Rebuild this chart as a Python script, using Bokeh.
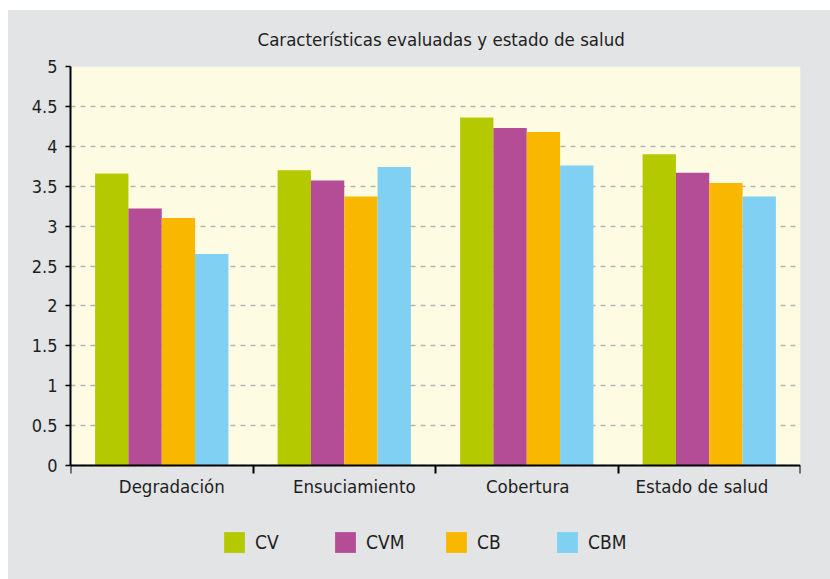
from bokeh.plotting import figure
from bokeh.models import (ColumnDataSource, Legend, LegendItem, FixedTicker,
                          CustomJSTickFormatter, Range1d, Spacer, BoxAnnotation)
from bokeh.transform import dodge
from bokeh.layouts import column, row
from bokeh.embed import file_html
from bokeh.resources import INLINE
import numpy as np

# ---- data ----
categories = ["Degradación", "Ensuciamiento", "Cobertura", "Estado de salud"]
series_names = ["CV", "CVM", "CB", "CBM"]
cv = [3.66, 3.70, 4.36, 3.90]
cvm = [3.22, 3.57, 4.23, 3.67]
cb = [3.10, 3.37, 4.18, 3.54]
cbm = [2.65, 3.74, 3.76, 3.37]
y_ticks = [0, 0.5, 1, 1.5, 2, 2.5, 3, 3.5, 4, 4.5, 5]
colors = ["#b5c900", "#b54c96", "#f9b700", "#80d0f4"]

# ---- style ----
FONT = "'Liberation Sans Narrow', 'DejaVu Sans Condensed', 'Roboto Condensed', sans-serif"
GRAY = "#e3e4e6"
PLOT_BG = "#fefbe3"
TXT = "#1e1e1e"
label_shift = [0.055, 0.055, 0.005, -0.04]   # small horizontal nudges of category labels

Y_MAX = 5
px_per_unit = 399 / Y_MAX
y_bottom = -114 / px_per_unit

src = ColumnDataSource(dict(x=np.arange(len(categories)) + 0.5,
                            CV=cv, CVM=cvm, CB=cb, CBM=cbm))

p = figure(width=822, height=569, output_backend="svg", toolbar_location=None,
           x_range=Range1d(0, len(categories)), y_range=Range1d(y_bottom, Y_MAX),
           title="Características evaluadas y estado de salud",
           min_border_left=62, min_border_right=30, min_border_top=56,
           min_border_bottom=0)
p.border_fill_color = GRAY
p.background_fill_color = None
p.outline_line_color = None
p.styles = {"background-color": GRAY}

p.add_layout(BoxAnnotation(left=0, right=len(categories), bottom=0, top=Y_MAX,
                           fill_color=PLOT_BG, fill_alpha=1, line_color=None,
                           level="image"))

p.title.align = "left"
p.title.offset = 187
p.title.text_font = FONT
p.title.text_font_size = "18.5px"
p.title.text_font_style = "normal"
p.title.text_color = TXT
p.title.standoff = 33

bw = 0.1826
renderers = []
for k, name in enumerate(series_names):
    renderers.append(p.vbar(x=dodge("x", (k - 1.5) * bw, range=p.x_range), top=name,
                            width=bw, source=src, fill_color=colors[k], line_color=None))

# x axis at y = 0
xa = p.xaxis[0]
xa.fixed_location = 0
xa.ticker = FixedTicker(ticks=[i + 0.5 + s for i, s in enumerate(label_shift)],
                        minor_ticks=list(range(len(categories) + 1)))
xa.formatter = CustomJSTickFormatter(args=dict(labels=categories),
                                     code="return labels[Math.floor(tick)]")
xa.major_tick_line_color = None
xa.major_tick_out = 8
xa.major_tick_in = 0
xa.minor_tick_line_color = "black"
xa.minor_tick_line_width = 2
xa.minor_tick_out = 8
xa.minor_tick_in = 0
xa.axis_line_color = "black"
xa.axis_line_width = 2
xa.major_label_text_font = FONT
xa.major_label_text_font_size = "18.5px"
xa.major_label_text_color = TXT
xa.major_label_standoff = 2

# y axis
ya = p.yaxis[0]
ya.bounds = (0, Y_MAX)
ya.ticker = FixedTicker(ticks=y_ticks, minor_ticks=[])
ya.formatter = CustomJSTickFormatter(code="return tick.toString()")
ya.axis_line_color = "black"
ya.axis_line_width = 2
ya.major_tick_line_color = "black"
ya.major_tick_line_width = 1.5
ya.major_tick_out = 5
ya.major_tick_in = 0
ya.minor_tick_line_color = None
ya.major_label_text_font = FONT
ya.major_label_text_font_size = "18px"
ya.major_label_text_color = TXT
ya.major_label_standoff = 8

p.xgrid.grid_line_color = None
p.ygrid.grid_line_color = "#b3b3b3"
p.ygrid.grid_line_width = 1.5
p.ygrid.grid_line_dash = "5 5"

legend = Legend(items=[LegendItem(label=n, renderers=[r]) for n, r in zip(series_names, renderers)],
                location=(151, 24), orientation="horizontal",
                glyph_width=26, glyph_height=26, label_height=26,
                label_standoff=8, label_width=61, spacing=16, padding=0, margin=0,
                border_line_color=None, background_fill_alpha=0,
                label_text_font=FONT, label_text_font_size="19px",
                label_text_color=TXT)
p.add_layout(legend)

panel = column(p, spacing=0, styles={"background-color": GRAY})
layout = column(Spacer(width=830, height=10),
                row(Spacer(width=8, height=569), panel, spacing=0), spacing=0)
open("out.html", "w").write(file_html(layout, INLINE))
